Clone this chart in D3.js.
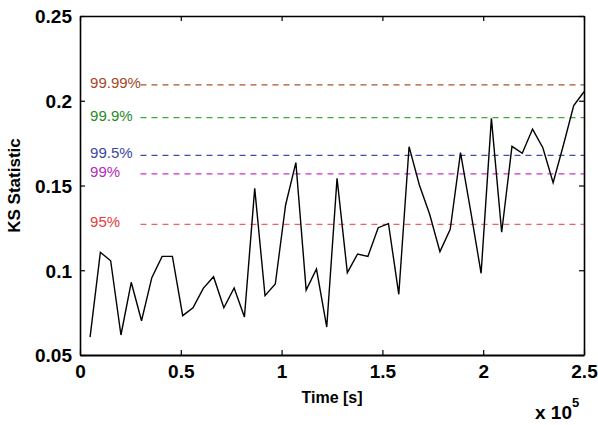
<!DOCTYPE html>
<html>
<head>
<meta charset="utf-8">
<script src="https://cdn.jsdelivr.net/npm/d3@7"></script>
<style>
  body { margin: 0; background: #fff; }
  text { font-family: "Liberation Sans", Arial, sans-serif; }
</style>
</head>
<body>
<svg width="598" height="425"></svg>
<script>
// time points (s)
const times = [5000, 10104, 15208, 20313, 25417, 30521, 35625, 40729, 45833, 50938,
  56042, 61146, 66250, 71354, 76458, 81563, 86667, 91771, 96875, 101979,
  107083, 112188, 117292, 122396, 127500, 132604, 137708, 142813, 147917, 153021,
  158125, 163229, 168333, 173438, 178542, 183646, 188750, 193854, 198958, 204063,
  209167, 214271, 219375, 224479, 229583, 234688, 239792, 244896, 250000];

// KS statistic values
const ksValues = [0.0605, 0.1106, 0.1056, 0.0618, 0.0929, 0.0702, 0.0956, 0.1082, 0.1082, 0.0732,
  0.0779, 0.0893, 0.0962, 0.0779, 0.0895, 0.0724, 0.1483, 0.0850, 0.0919, 0.1385,
  0.1635, 0.0883, 0.1007, 0.0665, 0.1542, 0.0986, 0.1096, 0.1082, 0.1251, 0.1275,
  0.0858, 0.1729, 0.1503, 0.1330, 0.1110, 0.1241, 0.1694, 0.1345, 0.0982, 0.1896,
  0.1224, 0.1731, 0.1690, 0.1833, 0.1723, 0.1517, 0.1739, 0.1971, 0.2053];

// significance thresholds
const levelLabels = ['99.99%', '99.9%', '99.5%', '99%', '95%'];
const levelValues = [0.2093, 0.1900, 0.1678, 0.1568, 0.1271];
const levelTextColors = ['#a5471f', '#1f8a1f', '#3b47a3', '#b52ab5', '#e63c3c'];
const levelLineColors = ['#a8552e', '#3fa83f', '#3e4ca3', '#cc30cc', '#f06262'];

const xTicks = [0, 50000, 100000, 150000, 200000, 250000];
const xTickLabels = ['0', '0.5', '1', '1.5', '2', '2.5'];
const yTicks = [0.05, 0.1, 0.15, 0.2, 0.25];
const yTickLabels = ['0.05', '0.1', '0.15', '0.2', '0.25'];

const svg = d3.select('svg');
const margin = {top: 16, right: 14, bottom: 70, left: 80};
const width = +svg.attr('width');
const height = +svg.attr('height');
const innerWidth = width - margin.left - margin.right;
const innerHeight = height - margin.top - margin.bottom;

const x = d3.scaleLinear().domain([0, 250000]).range([0, innerWidth]);
const y = d3.scaleLinear().domain([0.05, 0.25]).range([innerHeight, 0]);

const g = svg.append('g')
  .attr('transform', `translate(${margin.left},${margin.top})`);

// threshold lines + labels
levelValues.forEach((v, i) => {
  g.append('line')
    .attr('x1', x(30000)).attr('x2', x(250000))
    .attr('y1', y(v)).attr('y2', y(v))
    .attr('stroke', levelLineColors[i])
    .attr('stroke-width', 1.25)
    .attr('stroke-dasharray', '6,5');
  g.append('text')
    .attr('x', x(5000)).attr('y', y(v) + 3)
    .attr('fill', levelTextColors[i])
    .attr('font-size', 15)
    .text(levelLabels[i]);
});

// data line
const line = d3.line()
  .x((d, i) => x(times[i]))
  .y(d => y(d));

g.append('path')
  .datum(ksValues)
  .attr('fill', 'none')
  .attr('stroke', '#000')
  .attr('stroke-width', 1.4)
  .attr('d', line);

// axes (ticks pointing inward)
const axisBottom = d3.axisBottom(x).tickValues(xTicks)
  .tickFormat((d, i) => xTickLabels[i]).tickSizeInner(-5).tickSizeOuter(0).tickPadding(10);
const axisTop = d3.axisTop(x).tickValues(xTicks).tickSizeInner(-5).tickSizeOuter(0);
const axisLeft = d3.axisLeft(y).tickValues(yTicks)
  .tickFormat((d, i) => yTickLabels[i]).tickSizeInner(-5).tickSizeOuter(0).tickPadding(8);
const axisRight = d3.axisRight(y).tickValues(yTicks).tickSizeInner(-5).tickSizeOuter(0);

const gx = g.append('g').attr('transform', `translate(0,${innerHeight})`).call(axisBottom);
const gxt = g.append('g').call(axisTop);
const gy = g.append('g').call(axisLeft);
const gyr = g.append('g').attr('transform', `translate(${innerWidth},0)`).call(axisRight);

// top/right axes: ticks only
gxt.selectAll('.tick text').remove();
gyr.selectAll('.tick text').remove();

[gx, gxt, gy, gyr].forEach(a => {
  a.select('.domain').attr('stroke', '#000').attr('stroke-width', 1.6);
  a.selectAll('.tick line').attr('stroke', '#000').attr('stroke-width', 1.2);
  a.selectAll('.tick text')
    .attr('fill', '#000')
    .attr('font-family', '"Liberation Sans", Arial, sans-serif')
    .attr('font-size', 19)
    .attr('font-weight', 'bold');
});
gx.select('.domain').attr('stroke-width', 2.2);
gy.selectAll('.tick text').attr('dy', '0.36em');

// axis labels
g.append('text')
  .attr('x', innerWidth / 2).attr('y', innerHeight + 48)
  .attr('text-anchor', 'middle')
  .attr('font-size', 16).attr('font-weight', 'bold')
  .text('Time [s]');

svg.append('text')
  .attr('transform', `translate(20,${margin.top + innerHeight / 2}) rotate(-90)`)
  .attr('text-anchor', 'middle')
  .attr('font-size', 17).attr('font-weight', 'bold')
  .text('KS Statistic');

const mult = svg.append('text')
  .attr('x', 535).attr('y', 419)
  .attr('font-size', 19).attr('font-weight', 'bold');
mult.append('tspan').text('x 10');
mult.append('tspan').attr('dy', -12).attr('font-size', 13).text('5');
</script>
</body>
</html>
